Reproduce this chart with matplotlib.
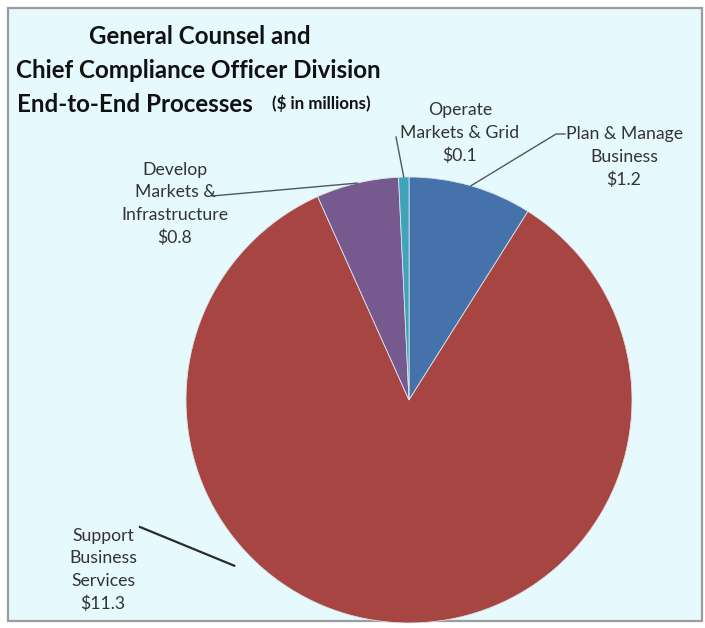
import matplotlib.pyplot as plt
from matplotlib.patches import Rectangle
import numpy as np

plt.rcParams['font.family'] = ['Lato', 'DejaVu Sans']

# spend by end-to-end process, $ millions (clockwise from 12 o'clock)
processes = ['Plan & Manage\nBusiness', 'Support\nBusiness\nServices',
             'Develop\nMarkets &\nInfrastructure', 'Operate\nMarkets & Grid']
costs = [1.2, 11.3, 0.8, 0.1]
colors = ['#4672ab', '#a64542', '#76598f', '#3fa3ba']

W, H = 705, 628
cx, cy, r = 409, H - 400, 223

fig = plt.figure(figsize=(W / 100, H / 100), dpi=100)
ax = fig.add_axes([0, 0, 1, 1])

# panel background
ax.add_patch(Rectangle((8, H - 621), 694, 613, facecolor='#e6f9fc',
                       edgecolor='#9c9c9c', lw=1.6, zorder=0))

wedges, _ = ax.pie(costs, colors=colors, startangle=90, counterclock=False,
                   center=(cx, cy), radius=r, frame=True,
                   wedgeprops=dict(edgecolor='#d8e4ea', linewidth=0.6))
ax.set_xlim(0, W)
ax.set_ylim(0, H)
ax.axis('off')

# label centre, where along the wedge the leader lands, its radius, leader text end
label_pos = [(624, 157), (103, 570), (175, 204), (460, 133)]
anchor_frac = [0.5, 0.36, 0.5, 0.5]
anchor_rad = [1.0, 1.08, 1.0, 1.0]
leader_start = [[(565, 134), (556, 134)], [(140, 527)], [(212, 196)], [(396, 137)]]

for w, name, val, (lx, ly), f, rr, pts in zip(wedges, processes, costs, label_pos,
                                               anchor_frac, anchor_rad, leader_start):
    ang = np.deg2rad(w.theta1 + f * (w.theta2 - w.theta1))
    ex, ey = cx + rr * r * np.cos(ang), cy + rr * r * np.sin(ang)
    xs = [p[0] for p in pts] + [ex]
    ys = [H - p[1] for p in pts] + [ey]
    ax.plot(xs, ys, color='#2b2b2b' if name.startswith('Support') else '#4a5a66',
            lw=1.6 if name.startswith('Support') else 1.0, zorder=3)
    ax.text(lx, H - ly, f'{name}\n${val:.1f}', ha='center', va='center',
            fontsize=12.7, color='#333333', linespacing=1.5, zorder=4)

# title block
ax.text(200, H - 36, 'General Counsel and', ha='center', va='center',
        fontsize=17.4, fontweight='bold', color='#111111')
ax.text(198, H - 70, 'Chief Compliance Officer Division', ha='center', va='center',
        fontsize=17.4, fontweight='bold', color='#111111')
ax.text(17, H - 104, 'End-to-End Processes', ha='left', va='center',
        fontsize=17.4, fontweight='bold', color='#111111')
ax.text(272, H - 103, '($ in millions)', ha='left', va='center',
        fontsize=12.2, fontweight='bold', color='#111111')

fig.savefig('out.png', dpi=100, facecolor='white')
